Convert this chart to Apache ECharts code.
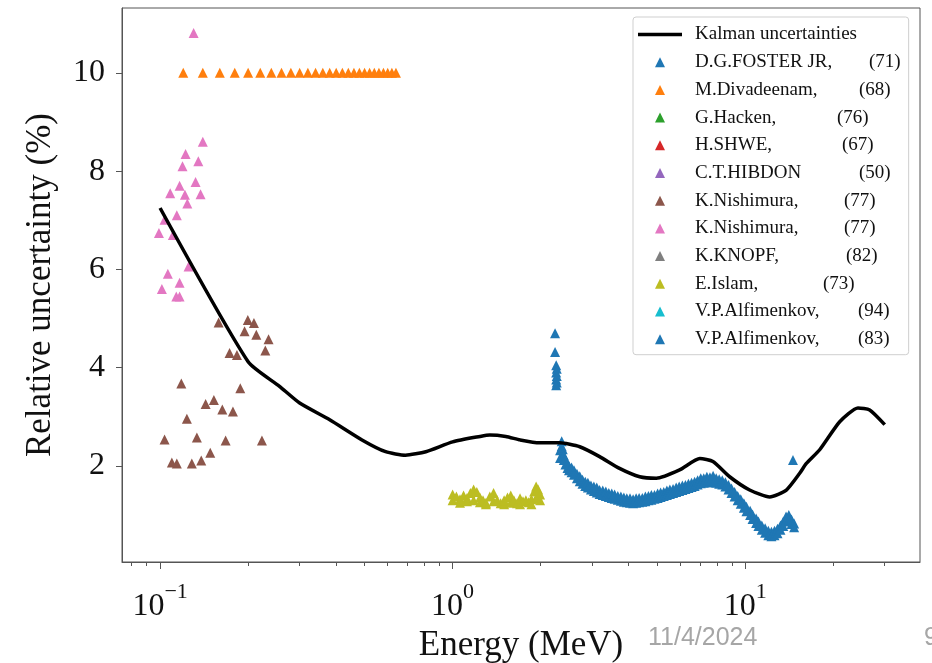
<!DOCTYPE html>
<html><head><meta charset="utf-8">
<script src="https://cdn.jsdelivr.net/npm/echarts@6/dist/echarts.min.js"></script>
<style>html,body{margin:0;padding:0;background:#fff}#c{width:932px;height:663px}</style>
</head><body><div id="c"></div>
<script>
// ---- data ----
const seriesLabels = ['D.G.FOSTER JR,', 'M.Divadeenam,', 'G.Hacken,', 'H.SHWE,', 'C.T.HIBDON', 'K.Nishimura,', 'K.Nishimura,', 'K.KNOPF,', 'E.Islam,', 'V.P.Alfimenkov,', 'V.P.Alfimenkov,'];
const seriesYears = ['(71)', '(68)', '(76)', '(67)', '(50)', '(77)', '(77)', '(82)', '(73)', '(94)', '(83)'];
const kalmanLabel = 'Kalman uncertainties';
const xMajorTicks = [0.1, 1, 10];
const xMinorTicks = [0.08, 0.09, 0.2, 0.3, 0.4, 0.5, 0.6, 0.7, 0.8, 0.9, 2, 3, 4, 5, 6, 7, 8, 9, 20, 30];
const yTicks = [2, 4, 6, 8, 10];

const kalman = [[0.1,7.25],[0.2,4.12],[0.256,3.62],[0.30,3.28],[0.38,2.94],[0.49,2.53],[0.59,2.29],[0.69,2.22],[0.81,2.29],[1.0,2.49],[1.24,2.60],[1.34,2.63],[1.52,2.60],[1.7,2.53],[1.98,2.47],[2.32,2.47],[2.72,2.39],[3.18,2.19],[3.72,1.95],[4.36,1.78],[4.97,1.75],[5.97,1.92],[7.0,2.15],[7.76,2.09],[8.85,1.78],[10.36,1.51],[12.13,1.37],[13.83,1.51],[15.36,1.85],[16.19,2.05],[17.98,2.33],[21.05,2.90],[24.3,3.18],[26.65,3.14],[30,2.84]];

const fosterJr = [[2.33,2.32],[2.33,2.16],[2.36,2.50],[2.36,2.40],[2.38,2.34],[2.38,2.24],[2.40,2.22],[2.40,2.12],[2.43,2.13],[2.43,2.03],[2.47,2.05],[2.47,1.96],[2.50,2.00],[2.50,1.91],[2.55,1.97],[2.55,1.87],[2.60,1.91],[2.60,1.82],[2.66,1.84],[2.66,1.75],[2.72,1.79],[2.72,1.69],[2.78,1.72],[2.78,1.64],[2.84,1.68],[2.84,1.59],[2.90,1.66],[2.90,1.56],[2.97,1.60],[2.97,1.52],[3.04,1.58],[3.04,1.49],[3.11,1.56],[3.11,1.46],[3.18,1.51],[3.18,1.43],[3.26,1.50],[3.26,1.41],[3.34,1.48],[3.34,1.39],[3.42,1.45],[3.42,1.37],[3.50,1.44],[3.50,1.35],[3.58,1.42],[3.58,1.33],[3.67,1.39],[3.67,1.31],[3.76,1.38],[3.76,1.29],[3.85,1.36],[3.85,1.27],[3.94,1.34],[3.94,1.26],[4.04,1.34],[4.04,1.25],[4.14,1.32],[4.14,1.24],[4.24,1.34],[4.24,1.25],[4.34,1.35],[4.34,1.26],[4.45,1.35],[4.45,1.27],[4.56,1.38],[4.56,1.28],[4.67,1.39],[4.67,1.30],[4.78,1.41],[4.78,1.31],[4.90,1.41],[4.90,1.33],[5.02,1.44],[5.02,1.35],[5.14,1.46],[5.14,1.37],[5.27,1.47],[5.27,1.39],[5.40,1.50],[5.40,1.41],[5.53,1.52],[5.53,1.43],[5.67,1.53],[5.67,1.45],[5.81,1.56],[5.81,1.47],[5.95,1.58],[5.95,1.49],[6.10,1.60],[6.10,1.51],[6.25,1.61],[6.25,1.53],[6.40,1.64],[6.40,1.55],[6.56,1.66],[6.56,1.57],[6.72,1.68],[6.72,1.59],[6.88,1.71],[6.88,1.62],[7.05,1.75],[7.05,1.65],[7.22,1.75],[7.22,1.66],[7.40,1.78],[7.40,1.67],[7.58,1.77],[7.58,1.68],[7.77,1.80],[7.77,1.67],[7.96,1.75],[7.96,1.66],[8.15,1.73],[8.15,1.64],[8.35,1.71],[8.35,1.62],[8.56,1.67],[8.56,1.58],[8.77,1.61],[8.77,1.52],[8.98,1.54],[8.98,1.45],[9.20,1.47],[9.20,1.38],[9.43,1.39],[9.43,1.30],[9.66,1.32],[9.66,1.23],[9.90,1.24],[9.90,1.15],[10.1,1.17],[10.1,1.08],[10.4,1.09],[10.4,1.00],[10.6,1.01],[10.6,0.92],[10.9,0.93],[10.9,0.84],[11.1,0.87],[11.1,0.78],[11.4,0.79],[11.4,0.70],[11.7,0.73],[11.7,0.64],[12.0,0.68],[12.0,0.59],[12.3,0.66],[12.3,0.57],[12.6,0.68],[12.6,0.59],[12.9,0.72],[12.9,0.63],[13.2,0.79],[13.2,0.70],[13.5,0.87],[13.5,0.78],[13.8,0.97],[13.8,0.88],[14.1,1.00],[14.1,0.90],[14.4,0.91],[14.4,0.82],[14.7,0.83],[14.7,0.75],[14.57,2.12]];
const divadeenam = [[0.12,10],[0.14,10],[0.16,10],[0.18,10],[0.20,10],[0.22,10],[0.24,10],[0.26,10],[0.28,10],[0.30,10],[0.32,10],[0.34,10],[0.36,10],[0.38,10],[0.40,10],[0.42,10],[0.44,10],[0.46,10],[0.48,10],[0.50,10],[0.52,10],[0.54,10],[0.56,10],[0.58,10],[0.60,10],[0.62,10],[0.64,10]];
const hacken = [];
const shwe = [];
const hibdon = [];
const nishimuraA = [[0.1585,4.92],[0.1995,4.97],[0.2093,4.91],[0.1944,4.74],[0.2133,4.67],[0.2349,4.58],[0.1728,4.30],[0.1831,4.26],[0.2289,4.35],[0.1182,3.68],[0.1880,3.58],[0.1431,3.26],[0.1527,3.34],[0.1632,3.15],[0.1774,3.11],[0.1235,2.96],[0.1036,2.54],[0.1336,2.58],[0.1675,2.52],[0.2229,2.52],[0.1484,2.27],[0.1383,2.11],[0.1284,2.05],[0.1097,2.07],[0.1141,2.05]];
const nishimuraB = [[0.1302,10.81],[0.140,8.60],[0.1222,8.35],[0.1351,8.20],[0.1193,8.10],[0.1322,7.78],[0.1166,7.70],[0.1083,7.55],[0.1375,7.53],[0.1216,7.52],[0.1239,7.34],[0.1141,7.10],[0.1036,7.01],[0.0991,6.74],[0.1106,6.70],[0.1251,6.06],[0.1063,5.91],[0.1166,5.73],[0.1014,5.60],[0.1166,5.45],[0.1136,5.45]];
const knopf = [];
const islam = [[1.00,1.42],[1.00,1.30],[1.03,1.38],[1.06,1.32],[1.06,1.25],[1.09,1.40],[1.12,1.35],[1.12,1.28],[1.15,1.45],[1.18,1.52],[1.18,1.30],[1.21,1.47],[1.24,1.36],[1.24,1.26],[1.27,1.30],[1.30,1.25],[1.30,1.22],[1.34,1.38],[1.38,1.45],[1.38,1.28],[1.42,1.30],[1.46,1.24],[1.50,1.22],[1.50,1.30],[1.54,1.36],[1.58,1.40],[1.58,1.25],[1.62,1.30],[1.66,1.24],[1.70,1.34],[1.70,1.22],[1.74,1.28],[1.78,1.30],[1.82,1.26],[1.86,1.32],[1.86,1.22],[1.90,1.48],[1.93,1.58],[1.93,1.35],[1.96,1.52],[1.99,1.42],[1.99,1.30]];
const alfimenkov94 = [];
const alfimenkov83 = [[2.24,4.70],[2.24,4.32],[2.26,4.05],[2.27,3.98],[2.26,3.90],[2.27,3.83],[2.26,3.76],[2.27,3.70],[2.26,3.64]];

const seriesData = [fosterJr, divadeenam, hacken, shwe, hibdon, nishimuraA, nishimuraB, knopf, islam, alfimenkov94, alfimenkov83];

// ---- styles ----
const colors = ['#1f77b4', '#ff7f0e', '#2ca02c', '#d62728', '#9467bd', '#8c564b', '#e377c2', '#7f7f7f', '#bcbd22', '#17becf', '#1f77b4'];
const yearOffsets = [174, 164, 142, 147, 164, 149, 149, 151, 128, 163, 163];
const serif = 'Liberation Serif';
// legend icons framed in a 44x10 box so they are not stretched
const triIcon = 'path://M0,0 M44,10 M17,10 L22,0 L27,10 Z';
const lineIcon = 'path://M0,0 M44,10 M0,3.2 L44,3.2 L44,6.8 L0,6.8 Z';

const seriesNames = seriesLabels.map((l, i) => l + ' ' + seriesYears[i] + ' #' + i);

const rich = {
  g: { width: 8, fontSize: 19, lineHeight: 20, fontFamily: serif },
  k: { fontSize: 19, lineHeight: 20, fontFamily: serif, color: '#111' },
  c: { fontSize: 19, lineHeight: 20, fontFamily: serif, color: '#111' }
};
yearOffsets.forEach((w, i) => {
  rich['n' + i] = { width: w, fontSize: 19, lineHeight: 20, fontFamily: serif, color: '#111' };
});

const series = [];
seriesData.forEach((d, i) => {
  series.push({
    name: seriesNames[i],
    type: 'scatter',
    data: d,
    symbol: 'triangle',
    symbolSize: 10,
    itemStyle: { color: colors[i], opacity: 1 },
    z: 2
  });
});
series.push({
  name: kalmanLabel,
  type: 'line',
  data: kalman,
  showSymbol: false,
  symbol: 'none',
  smooth: 0.2,
  lineStyle: { color: '#000', width: 3.5 },
  itemStyle: { color: '#000' },
  z: 5
});

const legendData = [{ name: kalmanLabel, icon: lineIcon, itemStyle: { color: '#000' } }]
  .concat(seriesNames.map((n, i) => ({ name: n, icon: triIcon, itemStyle: { color: colors[i] } })));

const chart = echarts.init(document.getElementById('c'), null, { renderer: 'canvas' });
chart.setOption({
  animation: false,
  backgroundColor: '#fff',
  grid: { left: 122, right: 12, top: 8, bottom: 101, show: true, borderColor: '#555', borderWidth: 1, containLabel: false, outerBoundsMode: 'none' },
  legend: {
    orient: 'vertical',
    left: 633,
    top: 17,
    data: legendData,
    itemWidth: 44,
    itemHeight: 10,
    itemGap: 8.7,
    padding: [8, 8, 6, 5],
    borderColor: '#cfcfcf',
    borderWidth: 1,
    borderRadius: 3,
    backgroundColor: 'rgba(255,255,255,0.85)',
    textStyle: { rich: rich, fontFamily: serif, fontSize: 19 },
    formatter: function (name) {
      if (name === kalmanLabel) return '{g| }{k|' + kalmanLabel + '}';
      const i = seriesNames.indexOf(name);
      return '{g| }{n' + i + '|' + seriesLabels[i] + '}{c|' + seriesYears[i] + '}';
    }
  },
  xAxis: [{
    type: 'log',
    logBase: 10,
    min: 0.0741,
    max: 39.6,
    position: 'bottom',
    name: 'Energy (MeV)',
    nameLocation: 'middle',
    nameGap: 58,
    nameTextStyle: { fontFamily: serif, fontSize: 35, color: '#111' },
    axisLine: { show: true, onZero: false, lineStyle: { color: '#555', width: 1 } },
    axisTick: { show: true, length: 7, customValues: xMajorTicks, lineStyle: { color: '#555' } },
    splitLine: { show: false },
    minorTick: { show: false },
    axisLabel: {
      customValues: xMajorTicks,
      margin: 19,
      formatter: function (v) {
        const p = Math.round(Math.log10(v));
        return '{b|10}{s|' + (p < 0 ? '\u2212' + (-p) : p) + '}';
      },
      rich: {
        b: { fontFamily: serif, fontSize: 32, lineHeight: 52, color: '#111' },
        s: { fontFamily: serif, fontSize: 22, lineHeight: 22, verticalAlign: 'top', color: '#111' }
      }
    }
  }, {
    type: 'log',
    logBase: 10,
    min: 0.0741,
    max: 39.6,
    position: 'bottom',
    offset: 0,
    axisLine: { show: false },
    axisTick: { show: true, length: 4, customValues: xMinorTicks, lineStyle: { color: '#555' } },
    axisLabel: { show: false },
    splitLine: { show: false }
  }],
  yAxis: {
    type: 'value',
    min: 0.045,
    max: 11.32,
    name: 'Relative uncertainty (%)',
    nameLocation: 'middle',
    nameGap: 64,
    nameTextStyle: { fontFamily: serif, fontSize: 35, color: '#111' },
    axisLine: { show: true, onZero: false, lineStyle: { color: '#555', width: 1 } },
    axisTick: { show: true, length: 6, customValues: yTicks, lineStyle: { color: '#555' } },
    splitLine: { show: false },
    axisLabel: { customValues: yTicks, margin: 17, fontFamily: serif, fontSize: 32, color: '#111' }
  },
  graphic: [
    { type: 'text', left: 648, top: 626, style: { text: '11/4/2024', fontFamily: 'Liberation Sans', fontSize: 25, fill: '#a6a6a6' } },
    { type: 'text', left: 924, top: 626, style: { text: '9', fontFamily: 'Liberation Sans', fontSize: 25, fill: '#a6a6a6' } }
  ],
  series: series
});
</script></body></html>
